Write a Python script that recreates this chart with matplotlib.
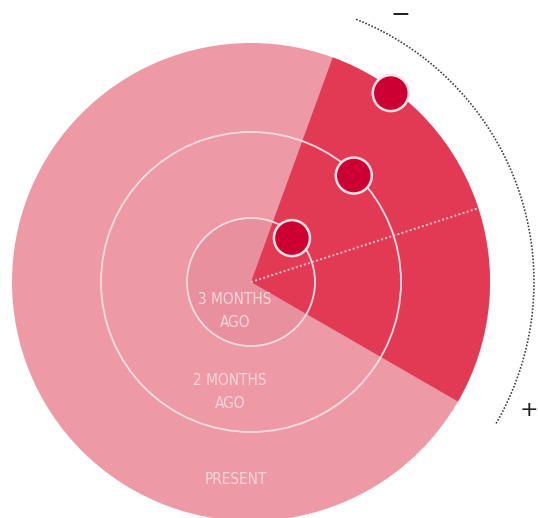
import numpy as np
import matplotlib.pyplot as plt
from matplotlib.patches import Circle, Wedge

# rings (months ago) and their radii in px
ring_labels = ["3 MONTHS\nAGO", "2 MONTHS\nAGO", "PRESENT"]
ring_radius = [64, 150, 239]
label_pos = [(-16, -29), (-21, -110), (-15, -198)]

# highlighted sector, degrees
sector_start = -30
sector_end = 70
sector_mid = 18

# red dots: (angle deg, radius)
dot_angle = [47, 46, 53.5]
dot_radius = [60, 148, 235]

# scale arc
arc_radius = 283
arc_start = -30
arc_end = 68.5


def draw():
    fig = plt.figure(figsize=(5.38, 5.18), dpi=100)
    ax = fig.add_axes([0, 0, 1, 1])
    ax.set_xlim(-251, 287)
    ax.set_ylim(-236, 282)
    ax.set_aspect("equal")
    ax.axis("off")

    ax.add_patch(Circle((0, 0), ring_radius[2], color="#ee9aa6", lw=0, zorder=1))
    ax.add_patch(Circle((0, 0), ring_radius[0], color="#e8909e", lw=0, zorder=1.5))
    ax.add_patch(Wedge((0, 0), ring_radius[2], sector_start, sector_end,
                       color="#e23a55", lw=0, zorder=2))

    # ring outlines (inner two)
    for r in ring_radius[:2]:
        ax.add_patch(Circle((0, 0), r, fill=False, ec="#f9dde1", lw=1.3, zorder=3))

    # dotted center line in sector
    a = np.radians(sector_mid)
    ax.plot([0, ring_radius[2] * np.cos(a)], [0, ring_radius[2] * np.sin(a)],
            ls=(0, (1, 1.2)), color="#f7c6cd", lw=1.4, zorder=3)

    for ang, r in zip(dot_angle, dot_radius):
        a = np.radians(ang)
        ax.add_patch(Circle((r * np.cos(a), r * np.sin(a)), 18, fc="#cc0033",
                            ec="#fbe3e6", lw=1.8, zorder=4))

    # outer dotted scale
    t = np.radians(np.linspace(arc_start, arc_end, 300))
    ax.plot(arc_radius * np.cos(t), arc_radius * np.sin(t),
            ls=(0, (1, 1)), color="#444444", lw=1.2, zorder=3)
    ax.text(149, 267, "\u2212", fontsize=17, color="#222222", ha="center", va="center")
    ax.text(278, -128, "+", fontsize=16, color="#222222", ha="center", va="center")

    for lab, (x, y) in zip(ring_labels, label_pos):
        ax.text(x, y, lab, ha="center", va="center", fontsize=11,
                family=["DejaVu Sans"], fontstretch="condensed",
                fontweight="light", color="#f9d6dc",
                linespacing=1.6, zorder=5)

    fig.savefig("out.png", dpi=100)


if __name__ == "__main__":
    draw()
